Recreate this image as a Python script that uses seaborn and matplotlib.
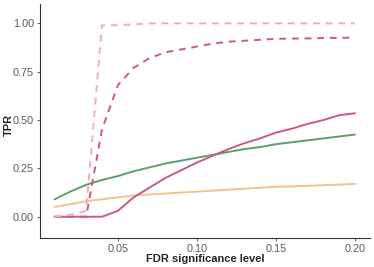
import numpy as np
import pandas as pd
import seaborn as sns
import matplotlib
matplotlib.use("Agg")
import matplotlib.pyplot as plt

# FDR levels on the x axis
fdr = [0.01, 0.02, 0.03, 0.04, 0.05, 0.06, 0.07, 0.08, 0.09, 0.10,
       0.11, 0.12, 0.13, 0.14, 0.15, 0.16, 0.17, 0.18, 0.19, 0.20]

# TPR per method
tpr_green = [0.09, 0.13, 0.165, 0.19, 0.21, 0.235, 0.255, 0.275, 0.29, 0.305,
             0.32, 0.335, 0.35, 0.36, 0.375, 0.385, 0.395, 0.405, 0.415, 0.425]
tpr_orange = [0.05, 0.065, 0.08, 0.09, 0.10, 0.11, 0.115, 0.12, 0.125, 0.13,
              0.135, 0.14, 0.145, 0.15, 0.155, 0.157, 0.16, 0.163, 0.166, 0.17]
tpr_red = [0.0, 0.0, 0.0, 0.0, 0.03, 0.10, 0.15, 0.20, 0.24, 0.28,
           0.315, 0.35, 0.38, 0.405, 0.435, 0.455, 0.48, 0.50, 0.525, 0.535]
tpr_red_dash = [0.0, 0.0, 0.0, 0.45, 0.68, 0.77, 0.82, 0.85, 0.865, 0.88,
                0.895, 0.905, 0.91, 0.915, 0.92, 0.921, 0.922, 0.924, 0.925, 0.926]
tpr_pink_dash = [0.0, 0.01, 0.03, 0.99, 0.99, 0.995, 1.0, 1.0, 1.0, 1.0,
                 1.0, 1.0, 1.0, 1.0, 1.0, 1.0, 1.0, 1.0, 1.0, 1.0]

methods = ["A", "B", "C", "D", "E"]
series = [tpr_green, tpr_orange, tpr_red, tpr_red_dash, tpr_pink_dash]
colors = {"A": "#5c9e6c", "B": "#f2c28f", "C": "#cc5a7e", "D": "#cc5a7e", "E": "#ebafc2"}
dashes = {"A": "", "B": "", "C": "", "D": (3.5, 3), "E": (3.5, 3)}

df = pd.DataFrame({
    "fdr": fdr * len(methods),
    "tpr": sum(series, []),
    "method": [m for m in methods for _ in fdr],
})

sns.set_theme(style="ticks")
plt.rcParams["font.family"] = ["Liberation Sans", "DejaVu Sans"]

fig = plt.figure(figsize=(3.74, 2.67), dpi=100)
ax = fig.add_axes([39.5 / 374, 1 - 238 / 267, (370 - 39.5) / 374, (238 - 4) / 267])

sns.lineplot(data=df, x="fdr", y="tpr", hue="method", style="method",
             palette=colors, dashes=dashes, linewidth=1.4, legend=False, ax=ax)

ax.set_xlim(0.0005, 0.2095)
ax.set_ylim(-0.11, 1.10)
ax.set_xticks([0.05, 0.10, 0.15, 0.20])
ax.set_xticklabels(["0.05", "0.10", "0.15", "0.20"])
ax.set_yticks([0.0, 0.25, 0.5, 0.75, 1.0])
ax.set_yticklabels(["0.00", "0.25", "0.50", "0.75", "1.00"])
ax.tick_params(labelsize=7.8, colors="#4d4d4d", length=2.5, width=0.6, pad=1.5)
ax.tick_params(labelcolor="#5a5a5a")
for s in ["left", "bottom"]:
    ax.spines[s].set_color("#333333")
    ax.spines[s].set_linewidth(0.8)
sns.despine(ax=ax)
ax.set_xlabel("FDR significance level", fontsize=8, fontweight="bold")
ax.set_ylabel("TPR", fontsize=8, fontweight="bold")
ax.yaxis.set_label_coords(-0.079, 0.483)
ax.xaxis.set_label_coords(0.5, -0.07)

fig.savefig("out.png", dpi=100)
